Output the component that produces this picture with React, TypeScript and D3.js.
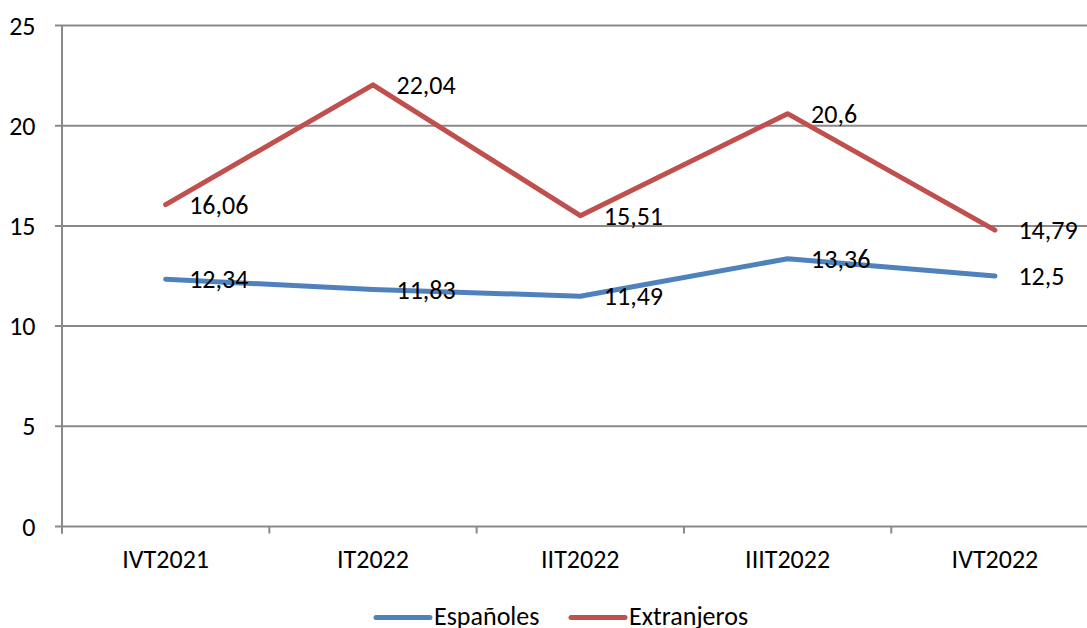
import React from "react";
import * as d3 from "d3";

const categories = ["IVT2021", "IT2022", "IIT2022", "IIIT2022", "IVT2022"];
const espanoles = [12.34, 11.83, 11.49, 13.36, 12.5];
const extranjeros = [16.06, 22.04, 15.51, 20.6, 14.79];
const yTicks = [0, 5, 10, 15, 20, 25];
const seriesNames = ["Españoles", "Extranjeros"];
const colors = ["#4F81BD", "#C0504D"];

const W = 1087;
const H = 628;
const left = 62;
const right = 1098.6;
const top = 25.5;
const bottom = 526.5;
const font = "Carlito, Calibri, Lato, 'Liberation Sans', Arial, sans-serif";
const fs = 26;

const fmt = (v: number) => String(v).replace(".", ",");

export default function App() {
  const x = d3.scaleBand<string>().domain(categories).range([left, right]);
  const y = d3.scaleLinear().domain([0, 25]).range([bottom, top]);
  const cx = (c: string) => (x(c) as number) + x.bandwidth() / 2;
  const line = d3
    .line<number>()
    .x((_, i) => cx(categories[i]))
    .y((d) => y(d));
  const series = [espanoles, extranjeros];
  const bands = [...categories.map((c) => x(c) as number), right];

  return (
    <svg
      width={W}
      height={H}
      style={{ position: "absolute", left: 0, top: 0, background: "#fff" }}
    >
      {yTicks.map((t) => (
        <g key={t}>
          <line x1={55} x2={right} y1={y(t)} y2={y(t)} stroke="#898989" strokeWidth={2} />
          <text
            x={35.5}
            y={y(t)}
            dy="0.35em"
            textAnchor="end"
            fontFamily={font}
            fontSize={fs}
            fill="#000"
          >
            {t}
          </text>
        </g>
      ))}
      <line x1={left} x2={left} y1={top} y2={bottom + 7} stroke="#898989" strokeWidth={2} />
      {bands.map((b, i) => (
        <line key={i} x1={b} x2={b} y1={bottom} y2={bottom + 7} stroke="#898989" strokeWidth={2} />
      ))}
      {categories.map((c) => (
        <text
          key={c}
          x={cx(c)}
          y={568}
          textAnchor="middle"
          fontFamily={font}
          fontSize={fs}
          fill="#000"
        >
          {c}
        </text>
      ))}
      {series.map((s, k) => (
        <path
          key={k}
          d={line(s) as string}
          fill="none"
          stroke={colors[k]}
          strokeWidth={5}
          strokeLinecap="round"
          strokeLinejoin="round"
        />
      ))}
      {series.map((s, k) =>
        s.map((v, i) => (
          <text
            key={`${k}-${i}`}
            x={cx(categories[i]) + 23.5}
            y={y(v)}
            dy="0.35em"
            fontFamily={font}
            fontSize={fs}
            fill="#000"
          >
            {fmt(v)}
          </text>
        ))
      )}
      {seriesNames.map((n, k) => {
        const lx = k === 0 ? 376 : 571;
        return (
          <g key={n}>
            <line
              x1={lx}
              x2={lx + 54}
              y1={617.5}
              y2={617.5}
              stroke={colors[k]}
              strokeWidth={5}
              strokeLinecap="round"
            />
            <text x={lx + 58} y={624.5} fontFamily={font} fontSize={fs} fill="#000">
              {n}
            </text>
          </g>
        );
      })}
    </svg>
  );
}
